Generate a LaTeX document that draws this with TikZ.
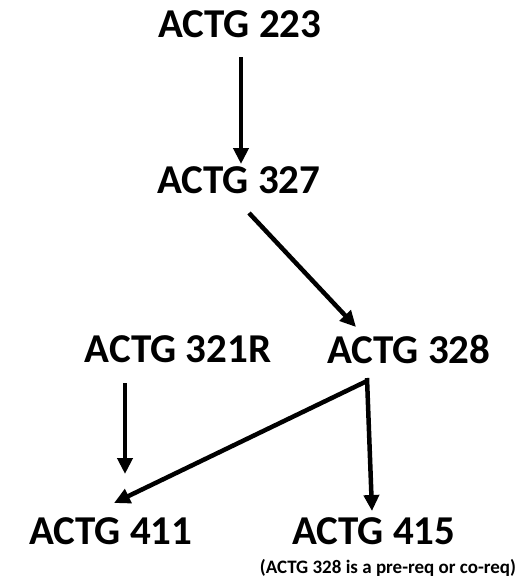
\documentclass[tikz,border=0pt]{standalone}
\usepackage{fontspec}
\setmainfont{Carlito}
\usetikzlibrary{arrows.meta}

\begin{document}
\begin{tikzpicture}[x=1pt,y=-1pt,
    course/.style={inner sep=0pt,font=\fontsize{41}{49}\selectfont\bfseries},
    arr/.style={line width=4.5pt,-{Triangle[length=16pt,width=15pt]}}]
  \useasboundingbox (0,0) rectangle (523,579);
  \node [course](c223) at (240,24) {ACTG 223};
  \node [course](c327) at (239,180) {ACTG 327};
  \node [course](c321) at (178,349) {ACTG 321R};
  \node [course](c328) at (409,349) {ACTG 328};
  \node [course](c411) at (111,531) {ACTG 411};
  \node [course](c415) at (374,531) {ACTG 415};
  \node [inner sep=0pt,font=\fontsize{19}{22}\selectfont\bfseries](note) at (388,568)
    {(ACTG 328 is a pre-req or co-req)};
  % arrow ends
  \coordinate (a1) at (241,57);
  \coordinate (b1) at (241,164);
  \coordinate (a2) at (249,213);
  \coordinate (b2) at (356,327);
  \coordinate (a3) at (125,383);
  \coordinate (b3) at (125,474);
  \coordinate (a4) at (367,381);
  \coordinate (b4) at (114,503);
  \coordinate (a5) at (367,378);
  \coordinate (b5) at (372,511);
  \draw [arr] (a1) -- (b1);
  \draw [arr] (a2) -- (b2);
  \draw [arr] (a3) -- (b3);
  \draw [arr] (a4) -- (b4);
  \draw [arr] (a5) -- (b5);
\end{tikzpicture}
\end{document}
